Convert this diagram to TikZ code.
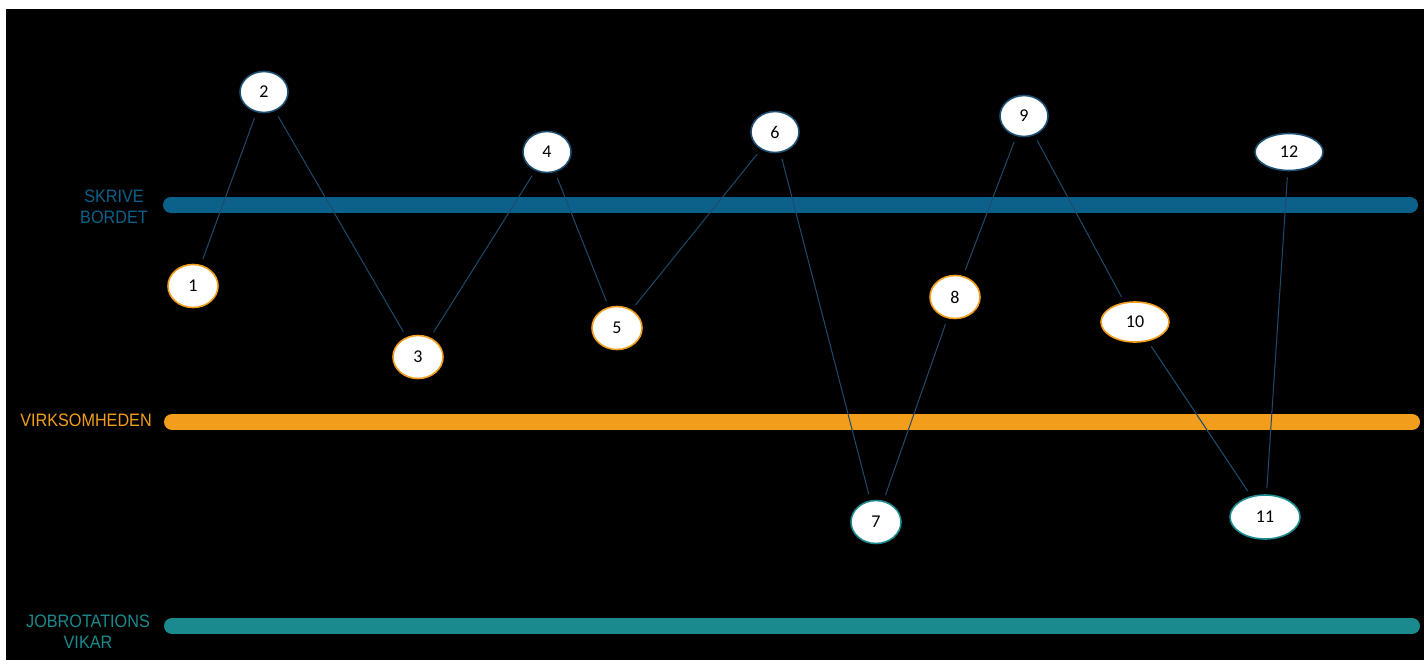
\documentclass[tikz,border=0pt]{standalone}
\usepackage{fontspec}
\setmainfont{Liberation Sans}
\newfontfamily\lblfont[FakeStretch=0.9]{Liberation Sans}
\newfontfamily\numfont{Carlito}
\usetikzlibrary{shapes.geometric}
\definecolor{barblue}{HTML}{0B618A}
\definecolor{barorange}{HTML}{F29E1C}
\definecolor{barteal}{HTML}{1A8A8E}
\definecolor{linkblue}{HTML}{1E4A6C}
\definecolor{rimblue}{HTML}{1B4F72}
\tikzset{
  bar/.style={line width=16pt, line cap=round},
  lbl/.style={font=\lblfont\fontsize{18}{21}\selectfont, align=center, inner sep=0pt},
  numnode/.style={ellipse, fill=white, line width=1.6pt, minimum width=50pt, minimum height=43pt, inner sep=0pt, font=\numfont\fontsize{18}{21}\selectfont, text=black},
  bluerim/.style={numnode, draw=rimblue},
  orangerim/.style={numnode, draw=barorange},
  tealrim/.style={numnode, draw=barteal},
  link/.style={draw=linkblue, line width=1pt, shorten <=6pt, shorten >=6pt},
}
\begin{document}
\begin{tikzpicture}[x=1pt,y=-1pt]
\useasboundingbox (0,0) rectangle (1424,664);
\fill[white] (0,0) rectangle (1424,664);
\fill[black] (6,9) rectangle (1424,660);
% bars
\coordinate (b1a) at (171,205); \coordinate (b1b) at (1410,205);
\coordinate (b2a) at (172,422); \coordinate (b2b) at (1412,422);
\coordinate (b3a) at (172,626); \coordinate (b3b) at (1412,626);
\draw[bar, barblue] (b1a) -- (b1b);
\draw[bar, barorange] (b2a) -- (b2b);
\draw[bar, barteal] (b3a) -- (b3b);
% labels
\node[lbl, text=barblue] (l1) at (114,207) {SKRIVE\\BORDET};
\node[lbl, text=barorange] (l2) at (86,420) {VIRKSOMHEDEN};
\node[lbl, text=barteal] (l3) at (88,632) {JOBROTATIONS\\VIKAR};
% nodes
\node[orangerim] (n1) at (193,286) {1};
\node[bluerim, minimum width=48pt, minimum height=41pt] (n2) at (264,92) {2};
\node[orangerim] (n3) at (418,357) {3};
\node[bluerim, minimum width=48pt, minimum height=41pt] (n4) at (547,152) {4};
\node[orangerim] (n5) at (617,328) {5};
\node[bluerim, minimum width=48pt, minimum height=41pt] (n6) at (775,132) {6};
\node[tealrim] (n7) at (876,522) {7};
\node[orangerim] (n8) at (955,297) {8};
\node[bluerim, minimum width=48pt, minimum height=41pt] (n9) at (1024,116) {9};
\node[orangerim, minimum width=68pt, minimum height=40pt] (n10) at (1135,322) {10};
\node[tealrim, minimum width=70pt, minimum height=44pt] (n11) at (1265,517) {11};
\node[bluerim, minimum width=68pt, minimum height=37pt] (n12) at (1289,152) {12};
% links
\draw[link] (n1) -- (n2);
\draw[link] (n2) -- (n3);
\draw[link] (n3) -- (n4);
\draw[link] (n4) -- (n5);
\draw[link] (n5) -- (n6);
\draw[link] (n6) -- (n7);
\draw[link] (n7) -- (n8);
\draw[link] (n8) -- (n9);
\draw[link] (n9) -- (n10);
\draw[link] (n10) -- (n11);
\draw[link] (n11) -- (n12);
\end{tikzpicture}
\end{document}
